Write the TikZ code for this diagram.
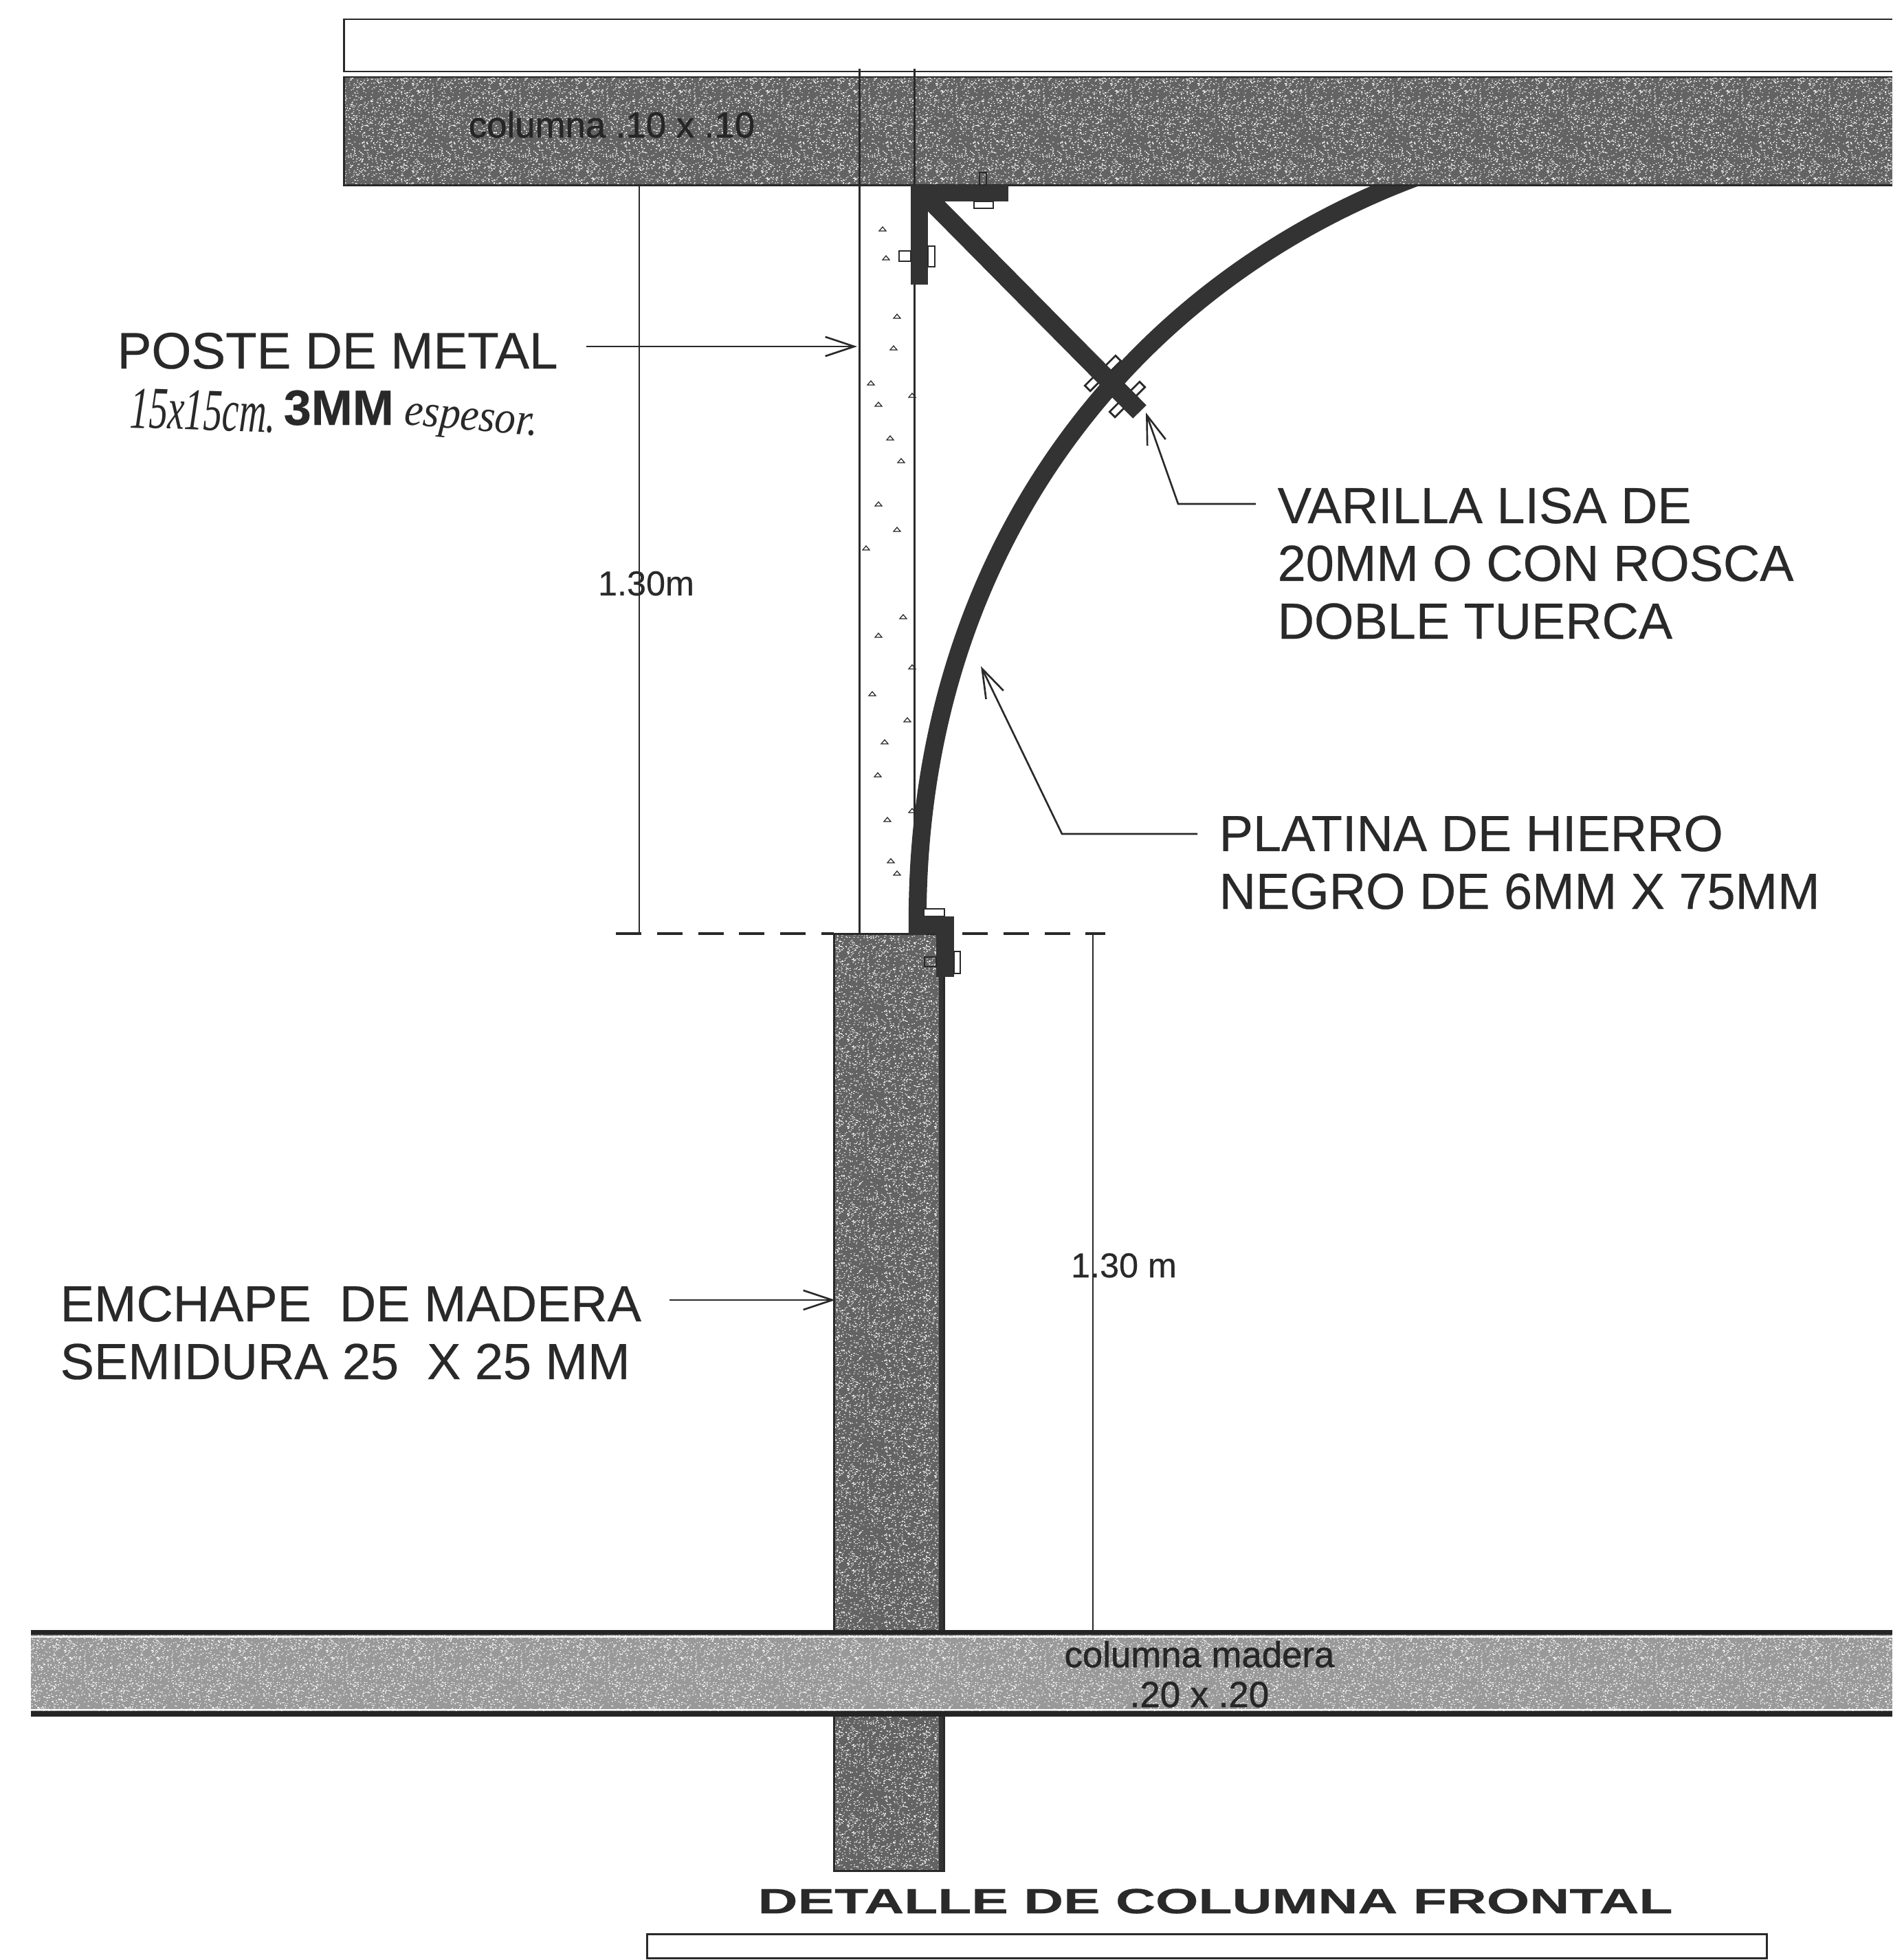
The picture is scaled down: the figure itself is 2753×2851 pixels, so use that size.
\documentclass[tikz,border=0pt]{standalone}
\usepackage{fontspec}
\usepackage{graphicx}
\setmainfont[FakeBold=0.35]{Liberation Sans}
\newfontfamily\beamfont[FakeBold=0.9]{Liberation Sans}
\newfontfamily\handfont{Liberation Serif}
\usetikzlibrary{arrows.meta,patterns}
\pgfmathsetseed{4711}
\pgfdeclarepatternformonly{speck}{\pgfpointorigin}{\pgfqpoint{36pt}{36pt}}{\pgfqpoint{36pt}{36pt}}{%
  \foreach \n in {1,...,1000}{%
    \pgfmathrandominteger{\xx}{0}{35}%
    \pgfmathrandominteger{\yy}{0}{35}%
    \pgfmathrandominteger{\xa}{0}{9}%
    \pgfmathrandominteger{\ya}{0}{9}%
    \pgfpathrectangle{\pgfqpoint{\xx.\xa pt}{\yy.\ya pt}}{\pgfqpoint{0.45pt}{0.3pt}}%
  }%
  \pgfusepath{fill}%
}
\definecolor{ink}{gray}{0.16}
\definecolor{barc}{gray}{0.2}
\definecolor{bdark}{gray}{0.39}
\definecolor{blight}{gray}{0.6}
\tikzset{
  thin line/.style={draw=ink,line width=0.85pt},
  heavy line/.style={draw=ink!90!black,line width=2.2pt},
  barline/.style={draw=barc,line width=7.8pt,line cap=butt},
  plateline/.style={draw=barc,line width=7.4pt,line cap=butt},
  steel/.style={fill=barc,draw=none},
  nut/.style={draw=ink,line width=0.8pt,fill=white},
  leader/.style={draw=ink,line width=0.75pt,-{Straight Barb[length=12pt,width=8pt,line width=0.75pt]}},
  dimline/.style={draw=ink,line width=0.75pt},
  cut/.style={draw=ink,line width=1.2pt,dash pattern=on 10.5pt off 6.5pt},
  label/.style={anchor=base west,inner sep=0pt,text=ink,align=left,font=\fontsize{21}{23.9}\selectfont},
  dimtext/.style={inner sep=0pt,text=ink,anchor=base,font=\fontsize{14.3}{16}\selectfont},
  beamtext/.style={inner sep=0pt,text=black!85,anchor=base,font=\beamfont\fontsize{15}{16}\selectfont},
  grain/.style={draw=ink,line width=0.35pt},
  hand/.style={inner sep=0pt,anchor=base west,text=ink},
}
\begin{document}
\begin{tikzpicture}[x=0.01cm,y=-0.01cm]
\useasboundingbox (0,0) rectangle (2753,2851);
\fill[white] (0,0) rectangle (2753,2851);

% top strip
\draw[thin line] (2753,28) -- (500,28) -- (500,104) -- (2753,104);

% post of metal
\draw[thin line] (1250,100) -- (1250,1358);
\draw[thin line] (1330,100) -- (1330,1358);
\foreach \gx/\gy in {1279/336,1284/378,1300/463,1295/509,1273/591,1322/578,1306/673,1273/736,1255/800,1300/773,1309/900,1273/927,1322/973,1264/1012,1282/1082,1286/1195,1322/1182,1291/1255,1300/1273,1262/560,1290/640,1315/1050,1272/1130}
  \draw[grain] (\gx,\gy) -- ++(5,-6) -- ++(5,6) -- cycle;

% lower post
\path[fill=bdark] (1213,1358) rectangle (1373,2721);
\path[pattern=speck,pattern color=white] (1213,1358) rectangle (1365,2721);
\draw[draw=barc,line width=2.2pt] (1370,1358) -- (1370,2721);
\draw[thin line] (1213,1358) rectangle (1373,2721);

% plate and rod nuts
\foreach \nx/\ny in {1619/529,1590/557,1654/567,1626/595}
  \draw[nut,shift={(\nx,\ny)},rotate=45] (-11,-5.5) rectangle (11,5.5);
\draw[plateline] (1335,1360) .. controls (1327,810) and (1640,415) .. (2060,258);
\draw[barline] (1350,288) -- (1658,599);

% upper beam
\path[fill=bdark] (500,112) rectangle (2753,269);
\path[pattern=speck,pattern color=white] (500,112) rectangle (2753,269);
\draw[thin line] (2753,112) -- (500,112) -- (500,269) -- (2753,269);
\draw[thin line] (1250,100) -- (1250,269);
\draw[thin line] (1330,100) -- (1330,269);
\node[beamtext] (upper) at (890,200) {columna .10 x .10};

% upper bracket
\path[steel] (1325,269) rectangle (1467,293);
\path[steel] (1325,269) rectangle (1350,414);
\draw[nut,fill=none] (1425,251) rectangle (1435,269);
\draw[nut] (1417,293) rectangle (1445,303);
\draw[nut] (1308,365) rectangle (1325,380);
\draw[nut] (1350,358) rectangle (1360,388);

% lower bracket
\draw[nut] (1344,1322) rectangle (1374,1333);
\path[steel] (1322,1333) rectangle (1362,1358);
\path[steel] (1362,1333) rectangle (1388,1421);
\draw[nut,fill=none] (1345,1392) rectangle (1362,1406);
\draw[nut] (1388,1384) rectangle (1397,1416);

% dimension lines
\coordinate (dimA) at (930,269);
\coordinate (dimB) at (930,1358);
\coordinate (dimC) at (1590,1358);
\coordinate (dimD) at (1590,2373);
\coordinate (cutA) at (896,1358);
\coordinate (cutB) at (1213,1358);
\coordinate (cutC) at (1400,1358);
\coordinate (cutD) at (1608,1358);
\draw[dimline] (dimA) -- (dimB);
\draw[dimline] (dimC) -- (dimD);
\draw[cut] (cutA) -- (cutB);
\draw[cut] (cutC) -- (cutD);
\node[dimtext] (dimtop) at (940,866) {1.30m};
\node[dimtext] (dimlow) at (1635,1858) {1.30 m};

% lower beam
\path[fill=blight] (45,2373) rectangle (2753,2495);
\path[pattern=speck,pattern color=white] (45,2373) rectangle (2753,2495);
\draw[white,line width=0.6pt] (45,2381) -- (2753,2381);
\draw[white,line width=0.6pt] (45,2487) -- (2753,2487);
\draw[heavy line] (45,2374.5) -- (2753,2374.5);
\draw[heavy line] (45,2493) -- (2753,2493);
\node[beamtext] (lowerA) at (1745,2425) {columna madera};
\node[beamtext] (lowerB) at (1745,2483) {.20 x .20};

% labels
\node[label,font=\fontsize{21.2}{23.9}\selectfont] (poste) at (170,536) {POSTE DE METAL};
\node[hand,rotate=-2] (hand1) at (188,622) {\handfont\itshape\fontsize{22}{24}\selectfont\scalebox{0.71}[1.12]{15x15cm.}};
\node[label,font=\bfseries\fontsize{20.5}{23}\selectfont] (three) at (412,618) {3MM};
\node[hand,rotate=-5] (hand2) at (587,617) {\handfont\itshape\fontsize{19}{22}\selectfont\scalebox{0.91}[1]{espesor.}};
\node[label] (varilla) at (1858,929) {VARILLA LISA DE\\20MM O CON ROSCA\\DOBLE TUERCA};
\node[label] (platina) at (1773,1322) {PLATINA DE HIERRO\\NEGRO DE 6MM X 75MM};
\node[label] (emchape) at (87,2006) {EMCHAPE\ \ DE MADERA\\SEMIDURA 25\ \ X 25 MM};
\node[anchor=base,inner sep=0pt,text=ink,font=\bfseries\fontsize{14.5}{16}\selectfont] (title) at (1768,2783) {\scalebox{1.575}[1]{DETALLE DE COLUMNA FRONTAL}};
\draw[thin line] (941,2813) rectangle (2570,2848) node[midway,inner sep=0pt] (titlebox) {};

% leaders
\coordinate (posteTip) at (1247,504);
\coordinate (varElbow) at (1714,733);
\coordinate (varTip) at (1667,600);
\coordinate (platElbow) at (1545,1213);
\coordinate (platTip) at (1427,969);
\coordinate (emTip) at (1215,1891);
\draw[leader] ([xshift=11.5pt]poste.east |- posteTip) -- (posteTip);
\draw[leader] ([xshift=-8.8pt]varilla.north west |- varElbow) -- (varElbow) -- (varTip);
\draw[leader] ([xshift=-8.8pt]platina.north west |- platElbow) -- (platElbow) -- (platTip);
\draw[leader] ([xshift=11.5pt]emchape.north east |- emTip) -- (emTip);
\end{tikzpicture}
\end{document}
